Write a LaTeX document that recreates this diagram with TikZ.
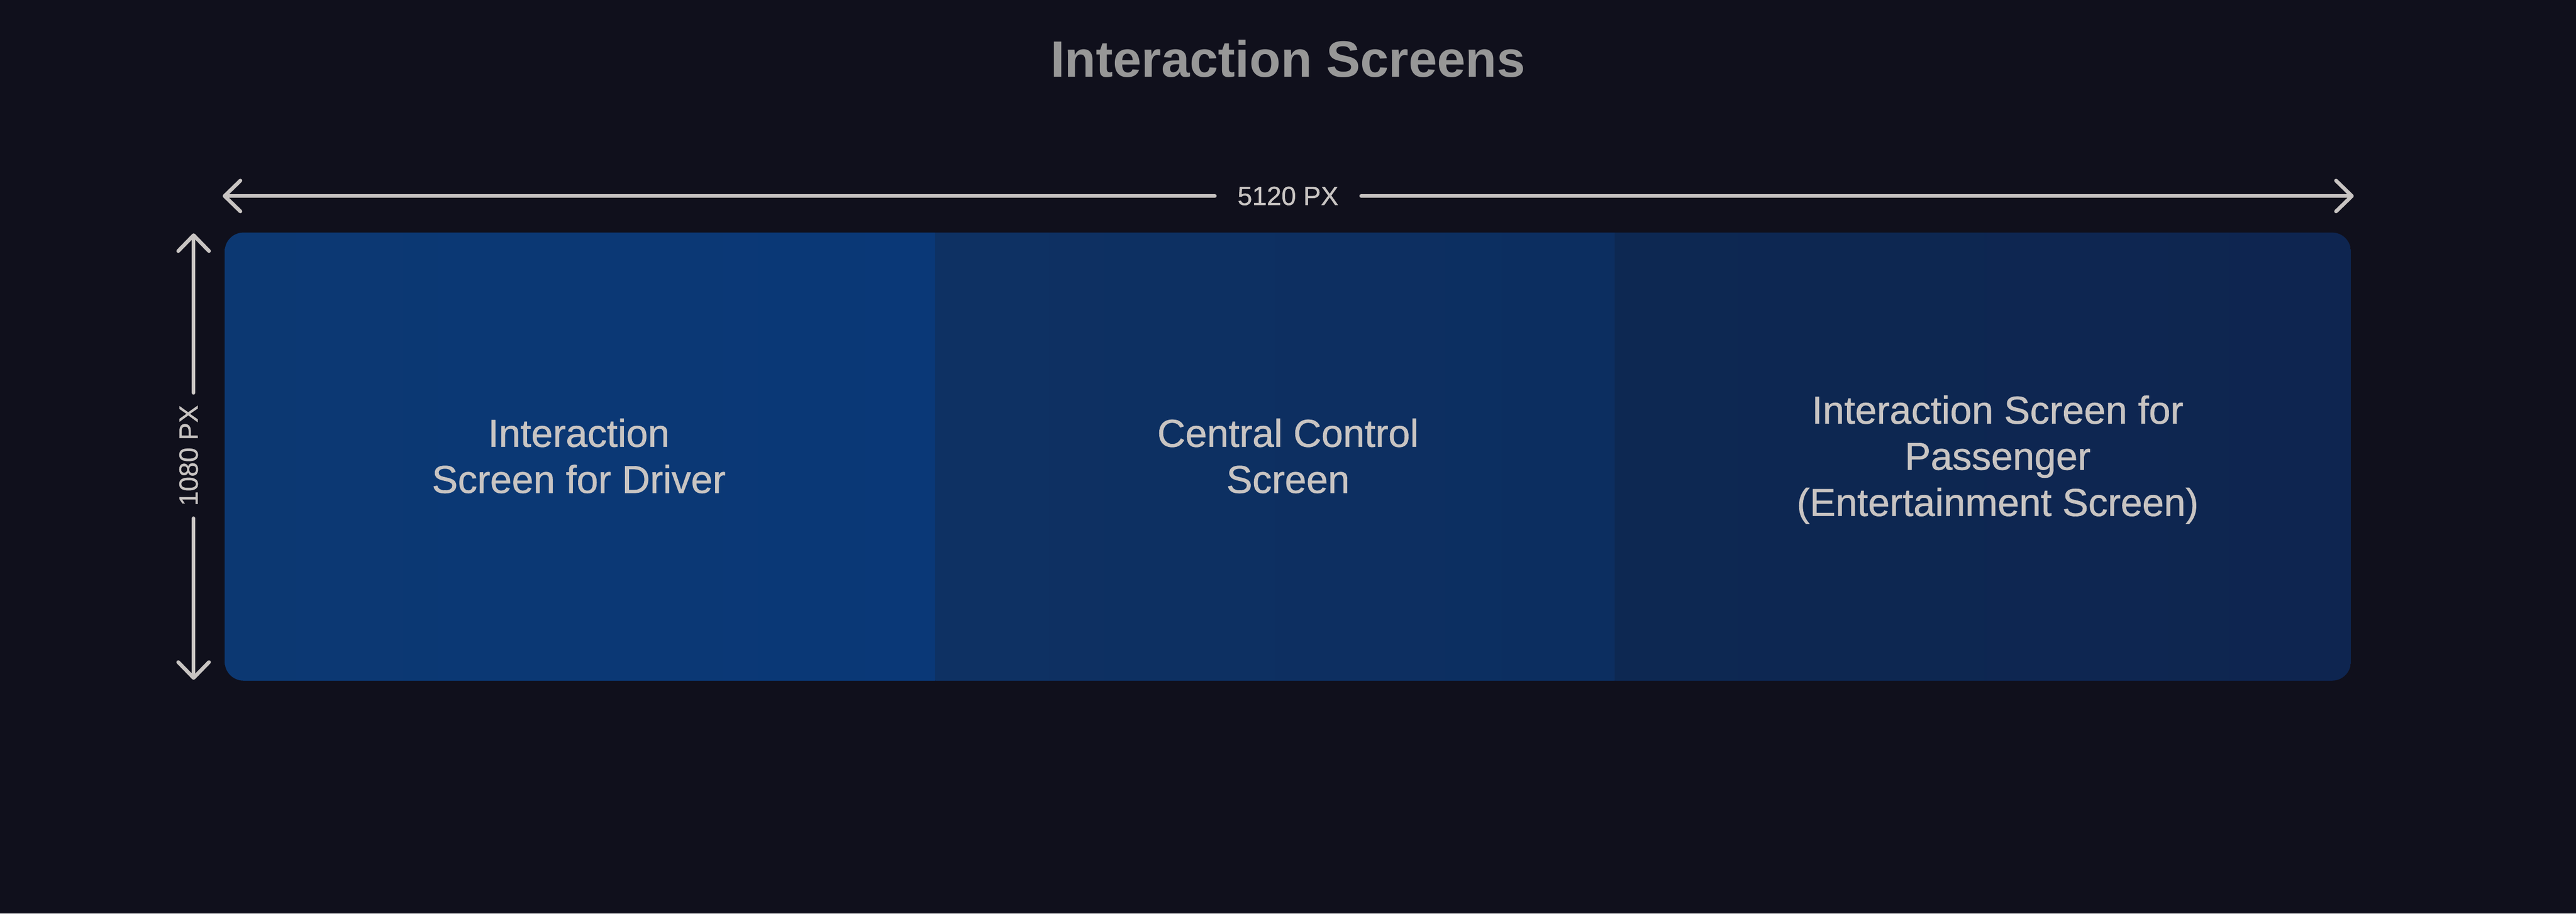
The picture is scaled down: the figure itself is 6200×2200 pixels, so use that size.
\documentclass[tikz,border=0pt]{standalone}
\usepackage{fontspec}
\setmainfont{Liberation Sans}
\newfontfamily\medfont[FakeBold=0.9]{Liberation Sans}
\usetikzlibrary{arrows.meta}
\definecolor{bg}{HTML}{10101C}
\definecolor{txt}{HTML}{C8C4C2}
\definecolor{ttl}{HTML}{979797}
\definecolor{saL}{HTML}{0C3872}
\definecolor{saR}{HTML}{0A3877}
\definecolor{sbL}{HTML}{0E3163}
\definecolor{sbR}{HTML}{0C2E60}
\definecolor{scL}{HTML}{0D2852}
\definecolor{scR}{HTML}{0E2550}
\begin{document}
\begin{tikzpicture}[x=0.01cm,y=-0.01cm,
  lbl/.style={text=txt, font=\medfont\fontsize{26.6}{31.6}\selectfont, align=center, inner sep=0pt},
  dimlbl/.style={text=txt, font=\medfont\fontsize{18}{21}\selectfont, inner ysep=0pt},
  dimline/.style={draw=txt, line width=0.09cm, line cap=round,
    -{Straight Barb[length=0.38cm,width=0.74cm,round]}},
]
\fill[bg] (0,0) rectangle (6200,2200);
\useasboundingbox (0,0) rectangle (6200,2200);

% title
\node[font=\fontsize{35}{40}\selectfont\bfseries, text=ttl, inner sep=0pt] (title) at (3100,142) {Interaction Screens};

% screen panel
\begin{scope}
  \clip[rounded corners=0.45cm] (541,560) rectangle (5658,1639);
  \shade[left color=saL, right color=saR] (541,560) rectangle (2251,1639);
  \shade[left color=sbL, right color=sbR] (2251,560) rectangle (3887,1639);
  \shade[left color=scL, right color=scR] (3887,560) rectangle (5658,1639);
\end{scope}

\node[lbl] (s1) at (1393,1098) {Interaction\\Screen for Driver};
\node[lbl] (s2) at (3100,1098) {Central Control\\Screen};
\node[lbl] (s3) at (4808,1107) {Interaction Screen for\\Passenger\\(Entertainment Screen)};

% width dimension
\node[dimlbl, inner xsep=0.54cm] (w) at (3100,472) {5120 PX};
\coordinate (wl) at (536,472);
\coordinate (wr) at (5665,472);
\draw[dimline] (w.west) -- (wl);
\draw[dimline] (w.east) -- (wr);

% height dimension
\node[dimlbl, rotate=90, inner xsep=0.29cm] (h) at (454,1097) {1080 PX};
\coordinate (ht) at (466,562);
\coordinate (hb) at (466,1637);
\draw[dimline] (h.east -| ht) -- (ht);
\draw[dimline] (h.west -| hb) -- (hb);
\end{tikzpicture}
\end{document}
